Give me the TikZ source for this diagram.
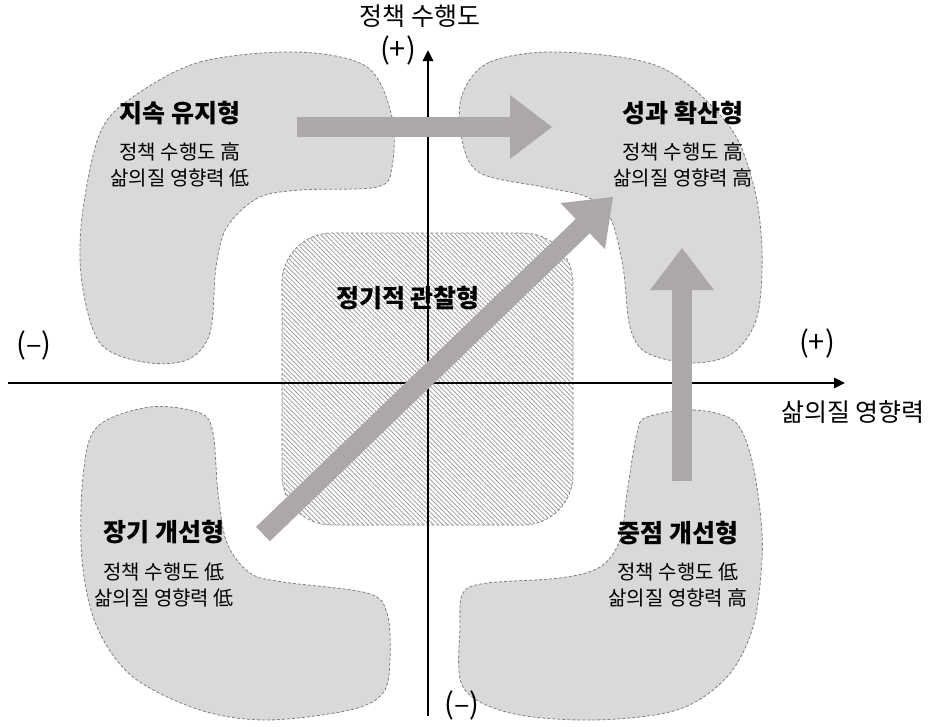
\documentclass[tikz,border=0pt]{standalone}
\usepackage{fontspec}
\setmainfont{Noto Sans CJK KR}
\usetikzlibrary{arrows.meta,patterns.meta}
\definecolor{blobgray}{HTML}{D9D9D9}
\definecolor{edgegray}{HTML}{7F7F7F}
\definecolor{arrowgray}{HTML}{ACA8A7}
\definecolor{hatchgray}{HTML}{9C9C9C}

\begin{document}
\begin{tikzpicture}[x=1pt,y=-1pt,
  blob/.style={fill=blobgray,draw=edgegray,densely dashed,line width=0.8pt},
  watchbox/.style={pattern={Lines[angle=-45,distance=3.3pt,line width=0.8pt]},
    pattern color=hatchgray,draw=edgegray,densely dashed,line width=0.8pt},
  axis/.style={line width=2.6pt,-{Triangle[length=11pt,width=10pt]}},
  fatarrow/.style={draw=arrowgray,line width=20pt,
    -{Triangle[length=42pt,width=64pt,line width=0pt]}},
  title/.style={font=\fontsize{25}{28}\selectfont\bfseries},
  sub/.style={font=\fontsize{20}{26}\selectfont,align=center},
  axlabel/.style={font=\fontsize{25}{28}\selectfont},
  sign/.style={font=\fontsize{29}{30}\selectfont}]

\useasboundingbox (0,0) rectangle (931,726);

% Four quadrant blobs
\draw[blob] plot[smooth cycle,tension=0.55] coordinates {
  (133,97) (200,62) (297,52) (367,67) (392,117) (392,167) (377,187)
  (300,190) (258,198) (227,227) (216,267) (210,333) (187,360)
  (143,362) (100,343) (82,283) (82,217) (100,133)};

\draw[blob] plot[smooth cycle,tension=0.55] coordinates {
  (462,95) (490,62) (560,52) (660,67) (727,123) (753,183) (762,250)
  (757,317) (733,353) (693,363) (647,353) (630,327) (623,267)
  (610,217) (587,197) (543,187) (480,173) (462,140)};

\draw[blob] plot[smooth cycle,tension=0.55] coordinates {
  (97,427) (150,407) (200,413) (213,433) (218,493) (227,543) (250,573)
  (283,582) (367,593) (387,613) (390,660) (383,693) (350,710)
  (267,720) (200,710) (133,677) (97,627) (82,560) (83,477)};

\draw[blob] plot[smooth cycle,tension=0.55] coordinates {
  (647,417) (693,410) (733,420) (750,453) (760,510) (762,560) (753,627)
  (727,677) (677,710) (593,720) (510,713) (463,687) (460,627)
  (463,593) (487,583) (560,578) (600,567) (620,540) (627,493) (637,433)};

% Centre area
\draw[watchbox,rounded corners=50pt]
  (282,233) rectangle (573,525);

% Axes
\coordinate (xstart) at (8,383);
\coordinate (xend) at (845,383);
\coordinate (ybot) at (428,716);
\coordinate (ytop) at (428,50);

\draw[axis] (xstart) -- (xend);
\draw[axis] (ybot) -- (ytop);

% Axis labels
\node[axlabel] (ytitle) at (420,16) {정책 수행도};
\node[sign] (yplus) at (398,50) {(+)};
\node[sign] (yminus) at (462,705) {(–)};
\node[sign] (xminus) at (34,345) {(–)};
\node[sign] (xplus) at (817,343) {(+)};
\node[axlabel] (xtitle) at (853,412) {삶의질 영향력};

% Movement between the groups
\coordinate (keeptail) at (297,127);
\coordinate (keephead) at (552,127);
\coordinate (longtail) at (263,534);
\coordinate (longhead) at (613,197);
\coordinate (focustail) at (682,481);
\coordinate (focushead) at (682,248);

\draw[fatarrow] (keeptail) -- (keephead);
\draw[fatarrow] (longtail) -- (longhead);
\draw[fatarrow] (focustail) -- (focushead);

% Group names
\node[title] (keep) at (180,113) {지속 유지형};
\node[sub] (keepsub) at (180,165) {정책 수행도 高\\삶의질 영향력 低};

\node[title] (spread) at (683,113) {성과 확산형};
\node[sub] (spreadsub) at (683,165) {정책 수행도 高\\삶의질 영향력 高};

\node[title] (long) at (164,532) {장기 개선형};
\node[sub] (longsub) at (164,585) {정책 수행도 低\\삶의질 영향력 低};

\node[title] (focus) at (678,533) {중점 개선형};
\node[sub] (focussub) at (678,585) {정책 수행도 低\\삶의질 영향력 高};

\node[title] (watch) at (408,298) {정기적 관찰형};

\end{tikzpicture}
\end{document}
